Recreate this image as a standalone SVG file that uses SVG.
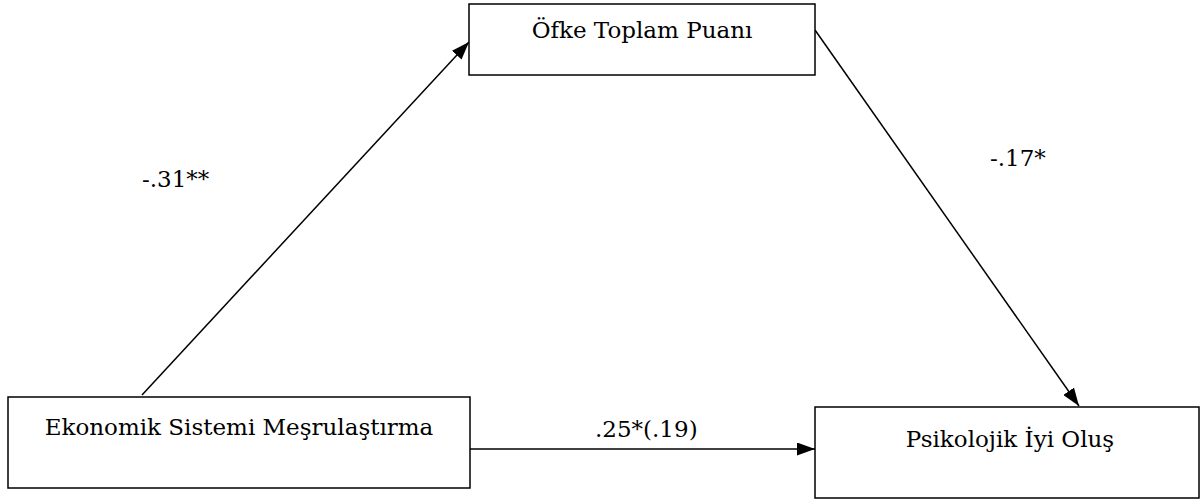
<svg xmlns="http://www.w3.org/2000/svg" width="1200" height="499" viewBox="0 0 1200 499">
<defs>
<marker id="ah" viewBox="0 0 18 13" refX="18" refY="6.5" markerWidth="18" markerHeight="13" markerUnits="userSpaceOnUse" orient="auto">
<path d="M0,0 L18,6.5 L0,13 Z" fill="#000"/>
</marker>
</defs>
<style>
.box{fill:#fff;stroke:#000;stroke-width:1.5}
text{font-family:"DejaVu Serif","Liberation Serif",serif;font-size:23px;fill:#000}
.c line{stroke:#000;stroke-width:1.5;marker-end:url(#ah)}
</style>
<rect width="1200" height="499" fill="#fff"/>
<g class="c" id="connectors">
<line x1="142" y1="395" x2="469" y2="42"/>
<line x1="815" y1="30" x2="1079" y2="406"/>
<line x1="470" y1="449" x2="815" y2="449"/>
</g>
<g id="n-ofke">
<rect class="box" x="469" y="4" width="346" height="71"/>
<text x="642" y="38" text-anchor="middle">Öfke Toplam Puanı</text>
</g>
<g id="n-ekonomik">
<rect class="box" x="8" y="397" width="462" height="91"/>
<text x="239" y="435" text-anchor="middle">Ekonomik Sistemi Meşrulaştırma</text>
</g>
<g id="n-psikolojik">
<rect class="box" x="815" y="407" width="384" height="91"/>
<text x="1010" y="447" text-anchor="middle">Psikolojik İyi Oluş</text>
</g>
<g id="labels">
<text x="142" y="187">-.31**</text>
<text x="990" y="166">-.17*</text>
<text x="595" y="437">.25*(.19)</text>
</g>
</svg>
